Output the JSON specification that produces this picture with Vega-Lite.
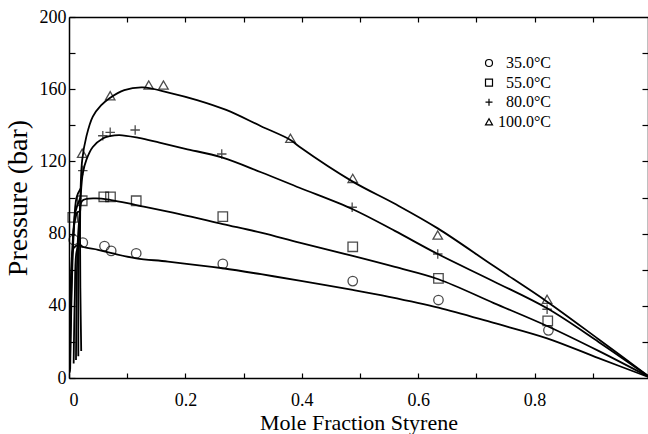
{
  "$schema": "https://vega.github.io/schema/vega-lite/v6.json",
  "width": 579,
  "height": 361,
  "autosize": {"type": "none"},
  "padding": {"left": 69, "top": 17, "right": 0, "bottom": 56},
  "background": "white",
  "config": {
    "view": {"stroke": null},
    "font": "Liberation Serif",
    "axis": {
      "domainColor": "black",
      "domainWidth": 1.5,
      "tickColor": "black",
      "tickWidth": 1.2,
      "grid": false,
      "labelColor": "black",
      "titleColor": "black",
      "labelFont": "Liberation Serif",
      "titleFont": "Liberation Serif",
      "labelFontSize": 18,
      "titleFontWeight": "normal"
    },
    "legend": {
      "symbolStrokeColor": "black",
      "symbolFillColor": "white",
      "symbolStrokeWidth": 1.2,
      "symbolSize": 49,
      "symbolOpacity": 1
    }
  },
  "datasets": {
    "lines": [
      {"b": "100m", "o": 1, "x": 1, "y": 0},
      {"b": "100m", "o": 2, "x": 0.91, "y": 21.5},
      {"b": "100m", "o": 3, "x": 0.8216, "y": 42.3},
      {"b": "100m", "o": 4, "x": 0.73, "y": 62},
      {"b": "100m", "o": 5, "x": 0.6337, "y": 82.9},
      {"b": "100m", "o": 6, "x": 0.56, "y": 96.5},
      {"b": "100m", "o": 7, "x": 0.4876, "y": 108.8},
      {"b": "100m", "o": 8, "x": 0.396, "y": 128.1},
      {"b": "100m", "o": 9, "x": 0.3806, "y": 131.9},
      {"b": "100m", "o": 10, "x": 0.33, "y": 139.5},
      {"b": "100m", "o": 11, "x": 0.2701, "y": 148.5},
      {"b": "100m", "o": 12, "x": 0.22, "y": 154},
      {"b": "100m", "o": 13, "x": 0.1727, "y": 158},
      {"b": "100m", "o": 14, "x": 0.1268, "y": 161},
      {"b": "100m", "o": 15, "x": 0.095, "y": 159.5},
      {"b": "100m", "o": 16, "x": 0.0696, "y": 155},
      {"b": "100m", "o": 17, "x": 0.055, "y": 151},
      {"b": "100m", "o": 18, "x": 0.0409, "y": 144.8},
      {"b": "100m", "o": 19, "x": 0.03, "y": 134},
      {"b": "100m", "o": 20, "x": 0.0227, "y": 120.8},
      {"b": "100m", "o": 21, "x": 0.02, "y": 105},
      {"b": "100m", "o": 22, "x": 0.019, "y": 80},
      {"b": "100m", "o": 23, "x": 0.0195, "y": 50},
      {"b": "100m", "o": 24, "x": 0.021, "y": 15},
      {"b": "100d", "o": 1, "x": 0.002, "y": 5},
      {"b": "100d", "o": 2, "x": 0.004, "y": 40},
      {"b": "100d", "o": 3, "x": 0.008, "y": 80},
      {"b": "100d", "o": 4, "x": 0.013, "y": 100},
      {"b": "100d", "o": 5, "x": 0.02, "y": 105},
      {"b": "80m", "o": 1, "x": 1, "y": 0},
      {"b": "80m", "o": 2, "x": 0.91, "y": 20},
      {"b": "80m", "o": 3, "x": 0.8216, "y": 38.6},
      {"b": "80m", "o": 4, "x": 0.73, "y": 53.5},
      {"b": "80m", "o": 5, "x": 0.6337, "y": 68.7},
      {"b": "80m", "o": 6, "x": 0.56, "y": 81.5},
      {"b": "80m", "o": 7, "x": 0.4876, "y": 93.5},
      {"b": "80m", "o": 8, "x": 0.396, "y": 105.4},
      {"b": "80m", "o": 9, "x": 0.33, "y": 114},
      {"b": "80m", "o": 10, "x": 0.2625, "y": 122.2},
      {"b": "80m", "o": 11, "x": 0.2, "y": 127},
      {"b": "80m", "o": 12, "x": 0.1555, "y": 130.4},
      {"b": "80m", "o": 13, "x": 0.12, "y": 133},
      {"b": "80m", "o": 14, "x": 0.0868, "y": 134.6},
      {"b": "80m", "o": 15, "x": 0.07, "y": 134},
      {"b": "80m", "o": 16, "x": 0.0581, "y": 132.7},
      {"b": "80m", "o": 17, "x": 0.0409, "y": 128},
      {"b": "80m", "o": 18, "x": 0.03, "y": 121},
      {"b": "80m", "o": 19, "x": 0.0237, "y": 113.4},
      {"b": "80m", "o": 20, "x": 0.02, "y": 100},
      {"b": "80m", "o": 21, "x": 0.017, "y": 75},
      {"b": "80m", "o": 22, "x": 0.016, "y": 45},
      {"b": "80m", "o": 23, "x": 0.016, "y": 12},
      {"b": "80d", "o": 1, "x": 0.0015, "y": 4},
      {"b": "80d", "o": 2, "x": 0.003, "y": 35},
      {"b": "80d", "o": 3, "x": 0.006, "y": 70},
      {"b": "80d", "o": 4, "x": 0.011, "y": 92},
      {"b": "80d", "o": 5, "x": 0.02, "y": 100},
      {"b": "55m", "o": 1, "x": 1, "y": 0},
      {"b": "55m", "o": 2, "x": 0.91, "y": 15},
      {"b": "55m", "o": 3, "x": 0.8216, "y": 28.8},
      {"b": "55m", "o": 4, "x": 0.73, "y": 41.5},
      {"b": "55m", "o": 5, "x": 0.6349, "y": 54.7},
      {"b": "55m", "o": 6, "x": 0.56, "y": 61.5},
      {"b": "55m", "o": 7, "x": 0.4876, "y": 67.6},
      {"b": "55m", "o": 8, "x": 0.396, "y": 75},
      {"b": "55m", "o": 9, "x": 0.33, "y": 80.5},
      {"b": "55m", "o": 10, "x": 0.2643, "y": 85.3},
      {"b": "55m", "o": 11, "x": 0.19, "y": 90.8},
      {"b": "55m", "o": 12, "x": 0.1155, "y": 95.8},
      {"b": "55m", "o": 13, "x": 0.0725, "y": 98.6},
      {"b": "55m", "o": 14, "x": 0.045, "y": 99.5},
      {"b": "55m", "o": 15, "x": 0.0227, "y": 98.2},
      {"b": "55m", "o": 16, "x": 0.019, "y": 92},
      {"b": "55m", "o": 17, "x": 0.015, "y": 75},
      {"b": "55m", "o": 18, "x": 0.013, "y": 45},
      {"b": "55m", "o": 19, "x": 0.012, "y": 10},
      {"b": "55d", "o": 1, "x": 0.001, "y": 3},
      {"b": "55d", "o": 2, "x": 0.0025, "y": 30},
      {"b": "55d", "o": 3, "x": 0.005, "y": 65},
      {"b": "55d", "o": 4, "x": 0.009, "y": 85},
      {"b": "55d", "o": 5, "x": 0.015, "y": 92},
      {"b": "55d", "o": 6, "x": 0.019, "y": 92},
      {"b": "35m", "o": 1, "x": 1, "y": 0},
      {"b": "35m", "o": 2, "x": 0.91, "y": 11},
      {"b": "35m", "o": 3, "x": 0.8216, "y": 22},
      {"b": "35m", "o": 4, "x": 0.73, "y": 30.5},
      {"b": "35m", "o": 5, "x": 0.6349, "y": 39},
      {"b": "35m", "o": 6, "x": 0.55, "y": 45},
      {"b": "35m", "o": 7, "x": 0.4876, "y": 48.8},
      {"b": "35m", "o": 8, "x": 0.396, "y": 53.9},
      {"b": "35m", "o": 9, "x": 0.33, "y": 57.5},
      {"b": "35m", "o": 10, "x": 0.2643, "y": 60.8},
      {"b": "35m", "o": 11, "x": 0.17, "y": 64.5},
      {"b": "35m", "o": 12, "x": 0.1155, "y": 66.3},
      {"b": "35m", "o": 13, "x": 0.0753, "y": 69},
      {"b": "35m", "o": 14, "x": 0.05, "y": 71},
      {"b": "35m", "o": 15, "x": 0.0237, "y": 72.7},
      {"b": "35m", "o": 16, "x": 0.018, "y": 74},
      {"b": "35m", "o": 17, "x": 0.013, "y": 70},
      {"b": "35m", "o": 18, "x": 0.01, "y": 45},
      {"b": "35m", "o": 19, "x": 0.008, "y": 8},
      {"b": "35d", "o": 1, "x": 0.0008, "y": 3},
      {"b": "35d", "o": 2, "x": 0.002, "y": 30},
      {"b": "35d", "o": 3, "x": 0.004, "y": 60},
      {"b": "35d", "o": 4, "x": 0.008, "y": 72},
      {"b": "35d", "o": 5, "x": 0.018, "y": 74}
    ],
    "pts": [
      {"T": "35.0°C", "x": 0.0082, "y": 76.5},
      {"T": "35.0°C", "x": 0.0237, "y": 75.0},
      {"T": "35.0°C", "x": 0.061, "y": 73.1},
      {"T": "35.0°C", "x": 0.0725, "y": 70.4},
      {"T": "35.0°C", "x": 0.1155, "y": 69.1},
      {"T": "35.0°C", "x": 0.2643, "y": 63.2},
      {"T": "35.0°C", "x": 0.4876, "y": 53.7},
      {"T": "35.0°C", "x": 0.6349, "y": 43.2},
      {"T": "35.0°C", "x": 0.8239, "y": 26.4},
      {"T": "55.0°C", "x": 0.0065, "y": 89.0},
      {"T": "55.0°C", "x": 0.0227, "y": 98.2},
      {"T": "55.0°C", "x": 0.0598, "y": 100.4},
      {"T": "55.0°C", "x": 0.0713, "y": 100.4},
      {"T": "55.0°C", "x": 0.1155, "y": 98.2},
      {"T": "55.0°C", "x": 0.2643, "y": 89.4},
      {"T": "55.0°C", "x": 0.4876, "y": 72.7},
      {"T": "55.0°C", "x": 0.6349, "y": 55.2},
      {"T": "55.0°C", "x": 0.8227, "y": 31.6},
      {"T": "80.0°C", "x": 0.0237, "y": 114.9},
      {"T": "80.0°C", "x": 0.0581, "y": 134.2},
      {"T": "80.0°C", "x": 0.0708, "y": 136.1},
      {"T": "80.0°C", "x": 0.1137, "y": 137.4},
      {"T": "80.0°C", "x": 0.2625, "y": 124.1},
      {"T": "80.0°C", "x": 0.4866, "y": 94.6},
      {"T": "80.0°C", "x": 0.6337, "y": 68.7},
      {"T": "80.0°C", "x": 0.8216, "y": 38.1},
      {"T": "100.0°C", "x": 0.0227, "y": 124.5},
      {"T": "100.0°C", "x": 0.0708, "y": 156.4},
      {"T": "100.0°C", "x": 0.1371, "y": 162.3},
      {"T": "100.0°C", "x": 0.1624, "y": 162.3},
      {"T": "100.0°C", "x": 0.3806, "y": 132.8},
      {"T": "100.0°C", "x": 0.4876, "y": 110.6},
      {"T": "100.0°C", "x": 0.6337, "y": 79.2},
      {"T": "100.0°C", "x": 0.8216, "y": 43.6}
    ]
  },
  "layer": [
    {
      "data": {"name": "pts"},
      "mark": {"type": "point", "filled": false, "stroke": "black", "strokeWidth": 1.3, "size": 90},
      "encoding": {
        "x": {
          "field": "x", "type": "quantitative",
          "scale": {"domain": [0, 0.995], "nice": false, "zero": false},
          "axis": {
            "orient": "bottom", "values": [0, 0.1, 0.2, 0.3, 0.4, 0.5, 0.6, 0.7, 0.8, 0.9],
            "labelExpr": "round(datum.value*10)%2==0 ? format(datum.value,'~g') : ''",
            "tickSize": -5, "labelPadding": 18, "title": "Mole Fraction Styrene", "titleFontSize": 22, "titlePadding": 3
          }
        },
        "y": {
          "field": "y", "type": "quantitative",
          "scale": {"domain": [0, 200], "nice": false},
          "axis": {
            "orient": "left", "values": [0, 20, 40, 60, 80, 100, 120, 140, 160, 180, 200],
            "labelExpr": "round(datum.value)%40==0 ? format(datum.value,'d') : ''",
            "tickSize": -6, "labelPadding": 9, "title": "Pressure (bar)", "titleFontSize": 28, "titlePadding": 7
          }
        },
        "shape": {
          "field": "T", "type": "nominal",
          "scale": {"domain": ["35.0°C", "55.0°C", "80.0°C", "100.0°C"], "range": ["circle", "square", "M-1,0L1,0M0,-1L0,1", "triangle-up"]},
          "legend": {
            "orient": "none", "legendX": 412, "legendY": 38, "title": null, "padding": 0,
            "labelFont": "Liberation Serif", "labelFontSize": 16, "labelColor": "black",
            "labelAlign": "right", "labelOffset": 54,
            "symbolSize": 49, "symbolStrokeColor": "black", "symbolFillColor": "white", "symbolStrokeWidth": 1.2,
            "rowPadding": 3.6,
            "encoding": {
              "symbols": {
                "update": {
                  "stroke": {"value": "black"},
                  "strokeWidth": {"value": 1.2},
                  "opacity": {"value": 1}
                }
              }
            }
          }
        }
      }
    },
    {
      "data": {"name": "lines"},
      "mark": {"type": "line", "stroke": "black", "strokeWidth": 1.8, "clip": true, "interpolate": "catmull-rom"},
      "encoding": {
        "x": {
          "field": "x", "type": "quantitative",
          "axis": {"orient": "top", "values": [0.1, 0.2, 0.3, 0.4, 0.5, 0.6, 0.7, 0.8, 0.9], "labels": false, "tickSize": -5, "title": null}
        },
        "y": {
          "field": "y", "type": "quantitative",
          "axis": {"orient": "right", "values": [20, 40, 60, 80, 100, 120, 140, 160, 180], "labels": false, "tickSize": -6, "title": null}
        },
        "detail": {"field": "b", "type": "nominal"},
        "order": {"field": "o", "type": "quantitative"}
      }
    }
  ],
  "resolve": {"axis": {"x": "independent", "y": "independent"}}
}
